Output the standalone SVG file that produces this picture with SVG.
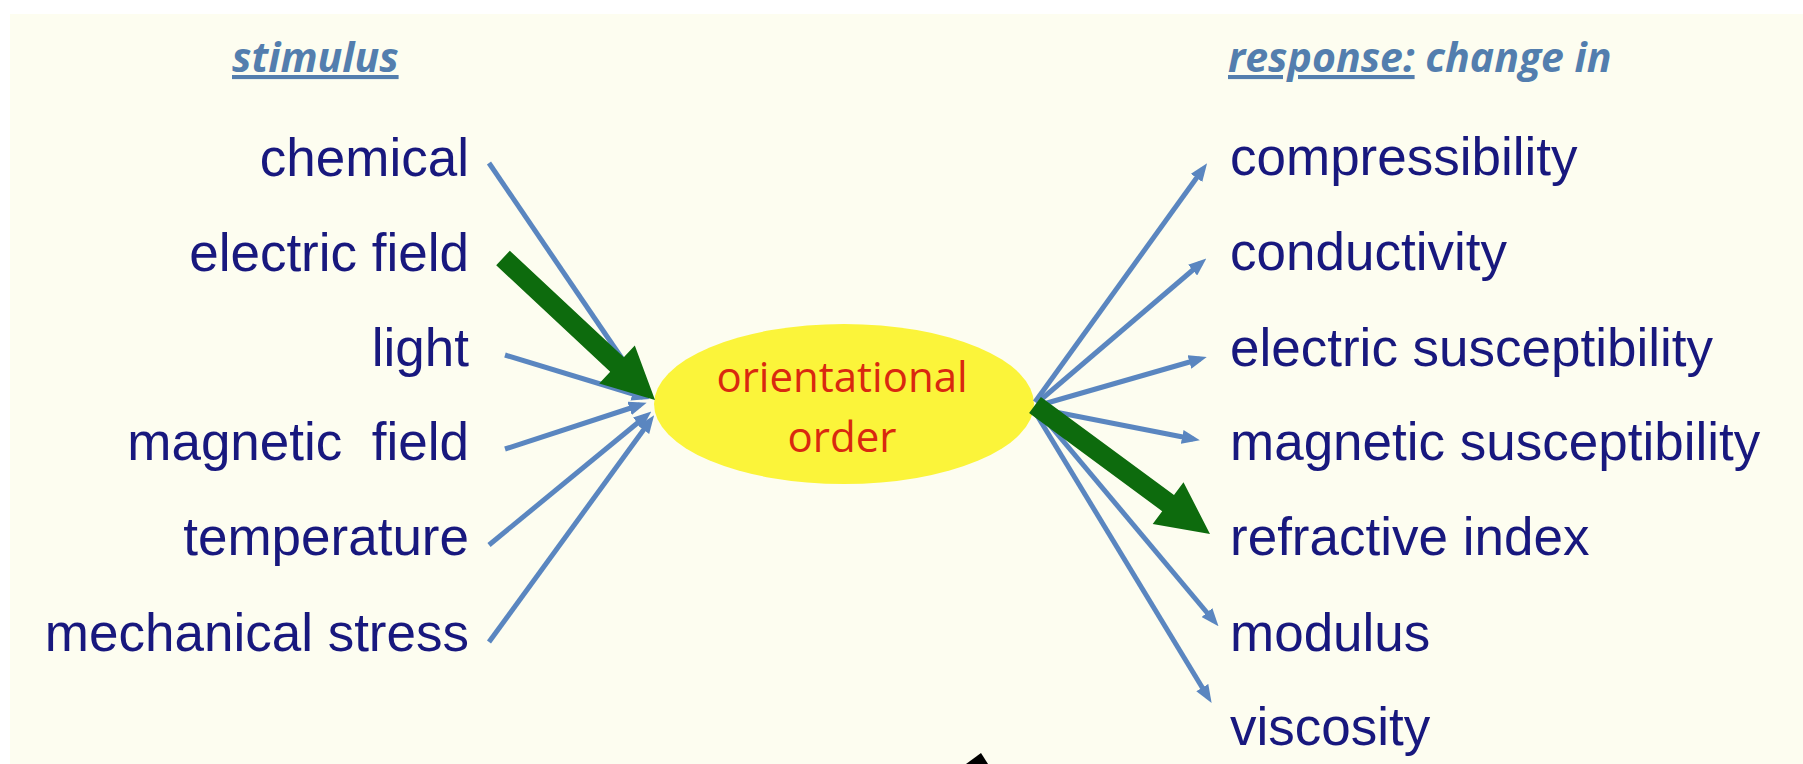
<svg xmlns="http://www.w3.org/2000/svg" width="1803" height="764" viewBox="0 0 1803 764">
<defs>
<marker id="bh" markerUnits="userSpaceOnUse" markerWidth="18" markerHeight="14" refX="11" refY="7" orient="auto" viewBox="0 0 18 14">
<path d="M0,0 L18,7 L0,14 z" fill="#5a86c0"/>
</marker>
<style>
.lbl{font-family:"Liberation Sans",Arial,sans-serif;font-size:53px;fill:#18187e}
.hdr{font-family:"Open Sans","Liberation Sans",sans-serif;font-size:41px;font-weight:bold;font-style:italic;fill:#537eae}
.ctr{font-family:"Open Sans","Liberation Sans",sans-serif;font-size:42px;fill:#d9280f;text-anchor:middle}
.ba{stroke:#5a86c0;stroke-width:5;fill:none;marker-end:url(#bh)}
.ga{fill:#0d6b0d}
</style>
</defs>
<rect x="0" y="0" width="1803" height="764" fill="#ffffff"/>
<rect x="10" y="14" width="1793" height="750" fill="#fdfdf0"/>

<g id="header-stimulus"><text class="hdr" x="232" y="72" text-decoration="underline">stimulus</text></g>
<g id="header-response"><text class="hdr" x="1228" y="72"><tspan text-decoration="underline">response:</tspan> change in</text></g>

<g id="center">
<ellipse cx="844" cy="404" rx="190" ry="80" fill="#fbf43a"/>
<text class="ctr" x="842" y="392">orientational</text>
<text class="ctr" x="842" y="452">order</text>
</g>

<g id="stimuli">
<g id="s-chemical"><text class="lbl" x="469" y="176" text-anchor="end">chemical</text></g>
<g id="s-electric"><text class="lbl" x="469" y="271" text-anchor="end">electric field</text></g>
<g id="s-light"><text class="lbl" x="469" y="366" text-anchor="end">light</text></g>
<g id="s-magnetic"><text class="lbl" x="469" y="460" text-anchor="end" xml:space="preserve">magnetic  field</text></g>
<g id="s-temperature"><text class="lbl" x="469" y="555" text-anchor="end">temperature</text></g>
<g id="s-stress"><text class="lbl" x="469" y="651" text-anchor="end">mechanical stress</text></g>
</g>

<g id="responses">
<g id="r-compress"><text class="lbl" x="1230" y="175">compressibility</text></g>
<g id="r-conduct"><text class="lbl" x="1230" y="270">conductivity</text></g>
<g id="r-elsusc"><text class="lbl" x="1230" y="366">electric susceptibility</text></g>
<g id="r-magsusc"><text class="lbl" x="1230" y="460">magnetic susceptibility</text></g>
<g id="r-refr"><text class="lbl" x="1230" y="555">refractive index</text></g>
<g id="r-modulus"><text class="lbl" x="1230" y="651">modulus</text></g>
<g id="r-visc"><text class="lbl" x="1230" y="745">viscosity</text></g>
</g>

<g id="connectors">
<line class="ba" x1="489" y1="163" x2="638" y2="382"/>
<line class="ba" x1="505" y1="355" x2="643" y2="397"/>
<line class="ba" x1="505" y1="449" x2="640" y2="405"/>
<line class="ba" x1="489" y1="545" x2="646" y2="416"/>
<line class="ba" x1="489" y1="642" x2="650" y2="421"/>
<polygon class="ga" points="509.8,250.7 623.8,357.2 634.8,345.5 655,400 599.2,383.5 610.2,371.8 496.2,265.3"/>

<line class="ba" x1="1035" y1="402" x2="1203" y2="169"/>
<line class="ba" x1="1037" y1="403" x2="1201" y2="263"/>
<line class="ba" x1="1040" y1="405" x2="1200" y2="359"/>
<line class="ba" x1="1040" y1="409" x2="1193" y2="439"/>
<line class="ba" x1="1038" y1="411" x2="1214" y2="621"/>
<line class="ba" x1="1035" y1="412" x2="1208" y2="697"/>
<polygon class="ga" points="1040.9,397 1174,495 1183.5,482.2 1210,534 1152.7,524 1162.2,511.2 1029.1,413.1"/>

<polygon points="966,764 981,753 988,764" fill="#000000"/>
</g>
</svg>
